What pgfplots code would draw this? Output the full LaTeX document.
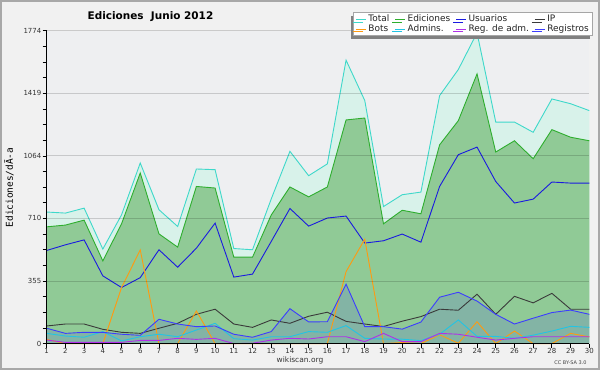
\documentclass[border=0pt]{standalone}
\usepackage{pgfplots}
\pgfplotsset{compat=1.18}
\usepackage{pgfplotstable}
\usepackage{fontspec}
\setmainfont{DejaVu Sans}
\newfontfamily\monofont{DejaVu Sans Mono}
\usetikzlibrary{shadows}
\definecolor{outerbg}{HTML}{F1F1F1}
\definecolor{plotbg}{HTML}{EEEFF1}
\definecolor{frame}{HTML}{A8A8A8}
\definecolor{totline}{HTML}{3ED8CA}
\definecolor{totfill}{HTML}{D8F2EA}
\definecolor{edline}{HTML}{2EAE2E}
\definecolor{edfill}{HTML}{90CA96}
\definecolor{usline}{HTML}{1A1AE0}
\definecolor{ipline}{HTML}{3A3A3A}
\definecolor{botline}{HTML}{FF9A10}
\definecolor{admline}{HTML}{22C4E4}
\definecolor{raline}{HTML}{B030E8}
\definecolor{regline}{HTML}{3C3CFF}
\pgfplotstableread{
d tot ed us ip bots adm regadm reg
1 746 662 528 100 24 58 20 87
2 740 672 560 111 0 43 7 58
3 768 700 588 111 0 36 7 64
4 536 469 384 81 0 68 7 64
5 730 679 318 64 318 15 7 53
6 1024 967 374 58 531 39 18 47
7 759 622 532 87 0 53 18 138
8 664 547 433 115 0 39 30 111
9 990 891 541 166 185 77 24 96
10 986 882 683 195 0 115 30 100
11 539 490 377 111 0 28 0 53
12 532 490 394 92 0 20 2 36
13 820 729 579 134 0 39 20 68
14 1090 888 766 115 0 39 30 198
15 952 832 666 155 0 68 26 123
16 1019 888 712 178 0 64 39 124
17 1607 1268 723 126 408 102 39 337
18 1378 1279 570 111 592 30 11 96
19 777 679 583 97 0 26 58 96
20 844 756 621 127 6 25 11 82
21 859 736 575 153 0 17 11 122
22 1406 1127 891 195 50 53 58 263
23 1554 1264 1071 189 2 134 53 291
24 1762 1529 1114 280 124 41 36 241
25 1256 1086 919 166 0 41 20 166
26 1256 1150 797 268 71 30 30 111
27 1198 1048 819 231 0 48 39 144
28 1387 1213 916 285 0 71 39 176
29 1360 1170 910 195 58 98 39 190
30 1321 1150 910 195 38 92 39 166
}\data
\begin{document}
\begin{tikzpicture}
\fill[outerbg] (0bp,0bp) rectangle (600bp,370bp);
\draw[frame, line width=2bp] (1bp,1bp) rectangle (599bp,369bp);
\begin{axis}[
  at={(46.7bp,26.4bp)}, anchor=south west,
  scale only axis, width=542.6bp, height=312.9bp,
  xmin=1, xmax=30, ymin=0, ymax=1774,
  axis background/.style={fill=plotbg},
  axis lines*=left,
  axis line style={line width=1.3bp, black},
  xtick={1,...,30},
  ytick={0,355,710,1064,1419,1774},
  minor ytick={88.75,177.5,266.25,443.75,532.5,621.25,798.5,887,975.5,1152.75,1241.5,1330.25,1507.75,1596.5,1685.25},
  tick align=outside,
  major tick length=4bp, minor tick length=4bp,
  tick style={black, line width=0.8bp},
  ymajorgrids,
  major grid style={draw=black, opacity=0.16, line width=0.9bp},
  axis on top,
  /pgf/number format/assume math mode=true,
  scaled y ticks=false,
  yticklabel style={font=\fontsize{7}{8}\selectfont, inner sep=1.2bp, text=black!80},
  xticklabel style={font=\fontsize{7}{8}\selectfont, inner sep=1bp, text=black!80},
  yticklabel={\pgfmathprintnumber[fixed,precision=0,1000 sep={}]{\tick}},
  clip=false,
  legend columns=4,
  legend cell align=left,
  legend style={at={(axis description cs:1.0068,1.0588)}, anchor=north east,
    draw=black!35, fill=white, line width=0.6bp,
    font=\fontsize{9}{9}\selectfont, text=black!85,
    inner xsep=2bp, inner ysep=0.5bp,
    row sep=-2.6bp,
    /tikz/every even column/.append style={column sep=3.5bp},
    drop shadow={shadow xshift=-3bp, shadow yshift=-3bp, fill=black!50, opacity=1}},
  legend image code/.code={\draw[#1, line width=0.8bp] (0bp,0bp) -- (10bp,0bp);},
]
% fills
\addplot[draw=none, fill=totfill, forget plot] table[x=d,y=tot]{\data} \closedcycle;
\addplot[draw=none, fill=edfill, forget plot] table[x=d,y=ed]{\data} \closedcycle;
\addplot[draw=none, fill=regline, fill opacity=0.15, forget plot] table[x=d,y=reg]{\data} \closedcycle;
% lines
\addplot[totline, line width=0.9bp] table[x=d,y=tot]{\data};
\addlegendentry{Total}
\addplot[edline, line width=0.9bp] table[x=d,y=ed]{\data};
\addlegendentry{Ediciones}
\addplot[usline, line width=0.9bp] table[x=d,y=us]{\data};
\addlegendentry{Usuarios}
\addplot[ipline, line width=0.9bp] table[x=d,y=ip]{\data};
\addlegendentry{IP}
\addplot[botline, line width=0.9bp] table[x=d,y=bots]{\data};
\addlegendentry{Bots}
\addplot[admline, line width=0.9bp] table[x=d,y=adm]{\data};
\addlegendentry{Admins.}
\addplot[raline, line width=0.9bp] table[x=d,y=regadm]{\data};
\addlegendentry{Reg. de adm.}
\addplot[regline, line width=0.9bp] table[x=d,y=reg]{\data};
\addlegendentry{Registros}
\end{axis}
\node[font=\bfseries\fontsize{10.5}{12}\selectfont] at (150.5bp,353.5bp) {Ediciones\ \ Junio 2012};
\node[rotate=90, font=\monofont\fontsize{9.5}{11}\selectfont] at (9bp,182.5bp) {Ediciones/dÃ-a};
\node[font=\fontsize{7.5}{8}\selectfont, text=black!80] at (300bp,9.5bp) {wikiscan.org};
\node[font=\fontsize{5}{6}\selectfont, text=black!75, anchor=east] at (590bp,7.3bp) {CC BY-SA 3.0};
\end{tikzpicture}
\end{document}
